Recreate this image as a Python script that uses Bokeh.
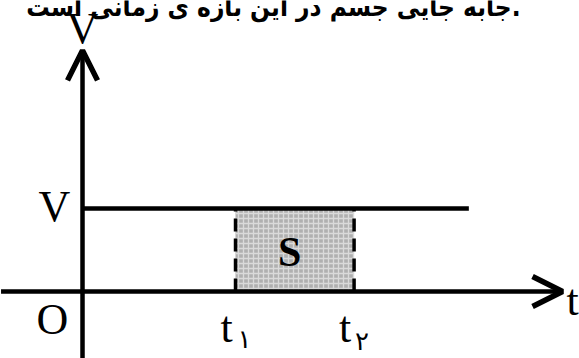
from bokeh.plotting import figure
from bokeh.models import Range1d, Arrow, OpenHead
from bokeh.core.properties import value
from bokeh.embed import file_html
from bokeh.resources import INLINE

# ---- data (symbolic units) ----
t_marks = [4.0, 7.1]          # t1, t2
t_labels = ["t", "t"]
t_subs = ["۱", "۲"]
v_level = 2.0                 # V
t_line_end = 10.1             # end of the horizontal V line
t_axis = [-2.13, 12.55]       # horizontal axis extent
v_axis = [-1.62, 5.81]        # vertical axis extent
area_label = "S"
caption = "جابه جایی جسم در این بازه ی زمانی است."

serif = value("Liberation Serif")

p = figure(width=579, height=358, output_backend="svg", toolbar_location=None,
           x_range=Range1d(-2.144, 12.993), y_range=Range1d(-1.614, 7.012),
           min_border=0, x_axis_type=None, y_axis_type=None,
           background_fill_color="white", border_fill_color="white")
p.grid.visible = False
p.outline_line_color = None

# shaded area S
p.quad(left=[t_marks[0]], right=[t_marks[1]], bottom=[0], top=[v_level],
       fill_color="#b0b0b0", line_color=None,
       hatch_pattern="+", hatch_color="#dadada", hatch_scale=5, hatch_weight=1.3)

# dashed verticals at t1, t2
for t in t_marks:
    p.line([t, t], [0, v_level], line_color="black", line_width=3.5, line_dash="13 7")

# horizontal line at V
p.line([0, t_line_end], [v_level, v_level], line_color="black", line_width=4.5)

# axes with arrows
p.add_layout(Arrow(end=OpenHead(size=30, line_width=5.5, line_color="black"),
                   x_start=t_axis[0], y_start=0, x_end=t_axis[1], y_end=0,
                   line_width=4.5, line_color="black"))
p.add_layout(Arrow(end=OpenHead(size=30, line_width=5.5, line_color="black"),
                   x_start=0, y_start=v_axis[0], x_end=0, y_end=v_axis[1],
                   line_width=4.5, line_color="black"))

# axis labels
p.text(x=[0], y=[v_axis[1]], text=["V"], x_offset=0, y_offset=-22,
       text_font=serif, text_font_size="44px", text_align="center",
       text_baseline="middle", text_color="black")
p.text(x=[0], y=[v_level], text=["V"], x_offset=-28, y_offset=-2,
       text_font=serif, text_font_size="44px", text_align="center",
       text_baseline="middle", text_color="black")
p.text(x=[0], y=[0], text=["O"], x_offset=-30, y_offset=28,
       text_font=serif, text_font_size="44px", text_align="center",
       text_baseline="middle", text_color="black")
p.text(x=[t_axis[1]], y=[0], text=["t"], x_offset=4, y_offset=9,
       text_font=serif, text_font_size="44px", text_align="left",
       text_baseline="alphabetic", text_color="black")

# t1, t2 labels
p.text(x=t_marks, y=[0, 0], text=t_labels, x_offset=-15, y_offset=36,
       text_font=serif, text_font_size="44px", text_align="left",
       text_baseline="alphabetic", text_color="black")
p.text(x=t_marks, y=[0, 0], text=t_subs, x_offset=[2, 1], y_offset=[47, 49],
       text_font=value("DejaVu Sans"), text_font_size="26px", text_align="left",
       text_baseline="alphabetic", text_color="black")

# S label
p.text(x=[(t_marks[0] + t_marks[1]) / 2], y=[v_level / 2], text=[area_label],
       x_offset=-5, y_offset=2, text_font=serif, text_font_size="42px",
       text_font_style="bold", text_align="center", text_baseline="middle",
       text_color="black")

# caption (cut off at top, as in the source image)
p.text(x=[4.99], y=[6.86], text=[caption], text_font=value("DejaVu Sans Condensed"),
       text_font_size="26px", text_font_style="bold", text_align="center",
       text_baseline="alphabetic", text_color="black")

open("out.html", "w").write(file_html(p, INLINE))
